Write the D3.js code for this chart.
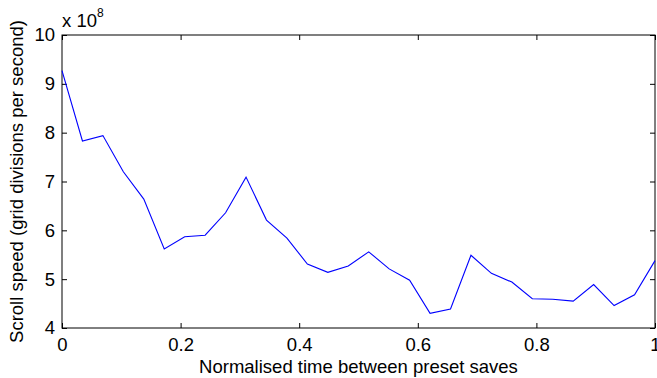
<!DOCTYPE html>
<html><head><meta charset="utf-8">
<script src="https://cdn.jsdelivr.net/npm/d3@7"></script>
<style>
html,body{margin:0;padding:0;background:#fff;}
text{font-family:"Liberation Sans",Arial,Helvetica,sans-serif;fill:#000;}
</style></head><body>
<svg id="chart" width="657" height="378"></svg>
<script>
const xValues = [0,1/29,2/29,3/29,4/29,5/29,6/29,7/29,8/29,9/29,10/29,11/29,12/29,13/29,14/29,15/29,16/29,17/29,18/29,19/29,20/29,21/29,22/29,23/29,24/29,25/29,26/29,27/29,28/29,1];
const speeds = [9.27e8,7.83e8,7.94e8,7.20e8,6.64e8,5.62e8,5.87e8,5.90e8,6.36e8,7.09e8,6.21e8,5.84e8,5.31e8,5.14e8,5.27e8,5.56e8,5.21e8,4.98e8,4.30e8,4.39e8,5.49e8,5.12e8,4.94e8,4.60e8,4.59e8,4.55e8,4.89e8,4.46e8,4.68e8,5.38e8];
const xTicks = [0,0.2,0.4,0.6,0.8,1];
const yTicks = [4e8,5e8,6e8,7e8,8e8,9e8,10e8];
const xLabel = "Normalised time between preset saves";
const yLabel = "Scroll speed (grid divisions per second)";

const FS = 18.5;
const svg = d3.select("#chart");
const L=62, R=655, T=35, B=328;
const x = d3.scaleLinear().domain([0,1]).range([L,R]);
const y = d3.scaleLinear().domain([4e8,10e8]).range([B,T]);
const tickLen = 5;

svg.append("rect").attr("x",L).attr("y",T).attr("width",R-L).attr("height",B-T)
  .attr("fill","none").attr("stroke","#000").attr("stroke-width",1);

const fmtX = d => d===0?"0":d===1?"1":d3.format(".1f")(d);
const fmtY = d => String(Math.round(d/1e8));

const gb = svg.append("g").attr("transform",`translate(0,${B})`)
  .call(d3.axisBottom(x).tickValues(xTicks).tickFormat(fmtX).tickSizeInner(-tickLen).tickSizeOuter(0).tickPadding(10));
const gt = svg.append("g").attr("transform",`translate(0,${T})`)
  .call(d3.axisTop(x).tickValues(xTicks).tickFormat("").tickSizeInner(-tickLen).tickSizeOuter(0));
const gl = svg.append("g").attr("transform",`translate(${L},0)`)
  .call(d3.axisLeft(y).tickValues(yTicks).tickFormat(fmtY).tickSizeInner(-tickLen).tickSizeOuter(0).tickPadding(7));
const gr = svg.append("g").attr("transform",`translate(${R},0)`)
  .call(d3.axisRight(y).tickValues(yTicks).tickFormat("").tickSizeInner(-tickLen).tickSizeOuter(0));

[gb,gt,gl,gr].forEach(g=>{
  g.select(".domain").remove();
  g.selectAll("line").attr("stroke","#000").attr("stroke-width",1);
  g.selectAll("text").attr("font-size",FS).attr("font-family",'"Liberation Sans",Arial,sans-serif').attr("fill","#000");
});

svg.append("path").datum(d3.zip(xValues,speeds))
  .attr("fill","none").attr("stroke","#0000ff").attr("stroke-width",1.1)
  .attr("d", d3.line().x(d=>x(d[0])).y(d=>y(d[1])));

const ex = svg.append("text").attr("x",62).attr("y",26.5).attr("font-size",FS);
ex.append("tspan").text("x 10");
ex.append("tspan").attr("font-size",12).attr("dy",-10).text("8");

svg.append("text").attr("x",(L+R)/2).attr("y",372.5).attr("text-anchor","middle").attr("font-size",FS).text(xLabel);
svg.append("text").attr("transform",`translate(23,${(T+B)/2}) rotate(-90)`).attr("text-anchor","middle").attr("font-size",FS).text(yLabel);
</script>
</body></html>
